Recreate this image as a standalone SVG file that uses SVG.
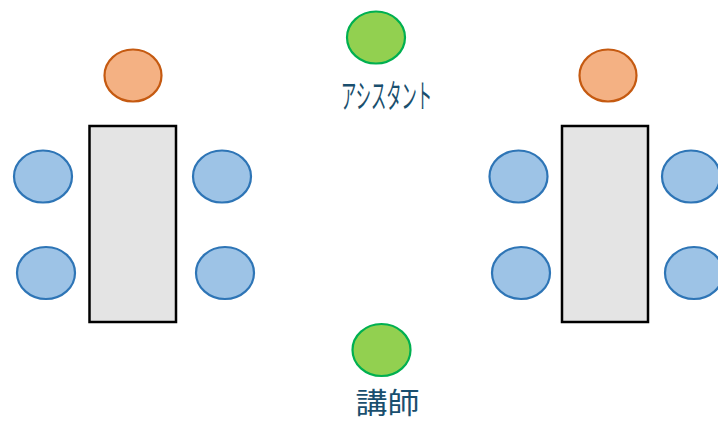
<svg xmlns="http://www.w3.org/2000/svg" width="718" height="421" viewBox="0 0 718 421">
<style>
.lead{fill:#F4B183;stroke:#C55A11;stroke-width:2.2}
.seat{fill:#9DC3E6;stroke:#2E75B6;stroke-width:2.2}
.staff{fill:#92D050;stroke:#00B050;stroke-width:2.2}
.table{fill:#E4E4E4;stroke:#000;stroke-width:2.5}
.lbl{font-family:"Noto Sans CJK JP","Noto Sans CJK SC",sans-serif;fill:#1A4F6E;text-anchor:middle}
</style>
<rect width="718" height="421" fill="#fff"/>
<g id="table-left">
<rect class="table" x="89.5" y="126" width="86.5" height="196"/>
</g>
<g id="leader-left"><ellipse class="lead" cx="133" cy="75.5" rx="28.5" ry="26"/></g>
<g id="seat-l1"><ellipse class="seat" cx="43" cy="176.5" rx="29" ry="26"/></g>
<g id="seat-l2"><ellipse class="seat" cx="222" cy="176.5" rx="29" ry="26"/></g>
<g id="seat-l3"><ellipse class="seat" cx="46" cy="273" rx="29" ry="26"/></g>
<g id="seat-l4"><ellipse class="seat" cx="225" cy="273" rx="29" ry="26"/></g>
<g id="table-right">
<rect class="table" x="562" y="126" width="86" height="196"/>
</g>
<g id="leader-right"><ellipse class="lead" cx="608" cy="75.5" rx="28.5" ry="26"/></g>
<g id="seat-r1"><ellipse class="seat" cx="518.5" cy="176.5" rx="29" ry="26"/></g>
<g id="seat-r2"><ellipse class="seat" cx="691" cy="176.5" rx="29" ry="26"/></g>
<g id="seat-r3"><ellipse class="seat" cx="521" cy="273" rx="29" ry="26"/></g>
<g id="seat-r4"><ellipse class="seat" cx="694" cy="273" rx="29" ry="26"/></g>
<g id="assistant">
<ellipse class="staff" cx="376" cy="37.5" rx="29" ry="26"/>
<text class="lbl" x="386.5" y="108" font-size="33" textLength="91" lengthAdjust="spacingAndGlyphs">アシスタント</text>
</g>
<g id="instructor">
<ellipse class="staff" cx="381.5" cy="350" rx="29" ry="26"/>
<text class="lbl" x="387.5" y="414" font-size="29" textLength="64" lengthAdjust="spacingAndGlyphs">講師</text>
</g>
<g id="connectors"/>
</svg>
